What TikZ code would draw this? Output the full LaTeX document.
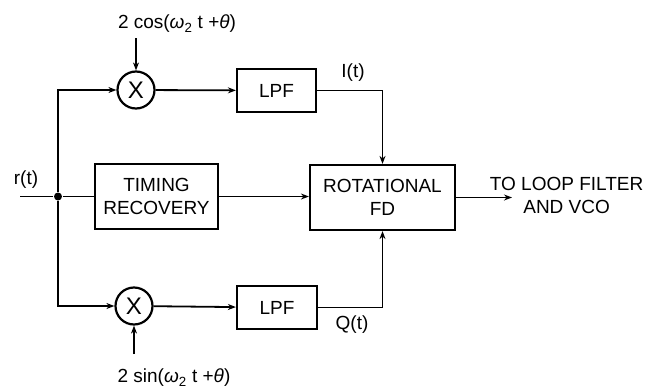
\documentclass[tikz,border=0pt]{standalone}
\usepackage{fontspec}
\setmainfont{Liberation Sans}
\usetikzlibrary{arrows.meta}
\begin{document}
\begin{tikzpicture}[x=1pt,y=-1pt, line width=1.8pt,
  >={Stealth[length=8pt,width=6pt]},
  lbl/.style={font=\fontsize{19}{23}\selectfont, inner sep=1pt},
  blk/.style={draw, line width=2.2pt, inner sep=0pt, align=center,
    font=\fontsize{19}{23}\selectfont},
  mult/.style={draw, circle, line width=2.2pt, minimum size=37pt, inner sep=0pt,
    font=\fontsize{24}{26}\selectfont},
  dot/.style={circle, fill, inner sep=0pt, minimum size=8pt}]
\useasboundingbox (0,0) rectangle (654,391);

\node[mult] (tm) at (136,90) {X};
\node[mult] (bm) at (134,306) {X};
\node[blk, minimum width=79pt, minimum height=43pt] (tl) at (276.5,90.5) {LPF};
\node[blk, minimum width=80pt, minimum height=43pt] (bl) at (277,307.5) {LPF};
\node[blk, minimum width=123pt, minimum height=65pt] (tr) at (156.5,196.5) {TIMING\\RECOVERY};
\node[blk, minimum width=145pt, minimum height=65pt] (rot) at (382.5,197.5) {ROTATIONAL\\FD};
\node[dot] (j) at (58,196.5) {};
\coordinate (in) at (20,196.5);
\coordinate (out) at (512,197.5);
\coordinate (cs) at (136,38);
\coordinate (sn) at (134,354);

\node[lbl] (rl) at (26,180) {r(t)};
\node[lbl] (cl) at (177,24) {2 cos(\textit{ω}\textsubscript{2} t +\textit{θ})};
\node[lbl] (sl) at (174,378) {2 sin(\textit{ω}\textsubscript{2} t +\textit{θ})};
\node[lbl] (il) at (353,73) {I(t)};
\node[lbl] (ql) at (352,325) {Q(t)};
\node[lbl, align=center, anchor=west] (ol) at (488,195) {TO LOOP FILTER\\AND VCO};

\draw (in) -- (j);
\draw[->] (j) |- (tm.west);
\draw[->] (j) |- (bm.west);
\draw (j) -- (tr.west);
\draw[->] (cs) -- (tm.north);
\draw[->] (sn) -- (bm.south);
\draw[->] (tm) -- (tl);
\draw[->] (bm) -- (bl);
\draw[->] (tl.east) -| (rot.north);
\draw[->] (bl.east) -| (rot.south);
\draw[->] (tr.east) -- (rot.west |- tr.east);
\draw[->] (rot.east) -- (out);
\end{tikzpicture}
\end{document}
